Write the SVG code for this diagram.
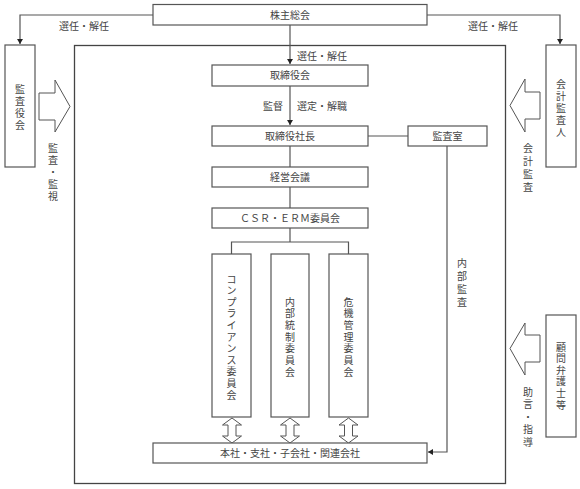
<svg xmlns="http://www.w3.org/2000/svg" width="580" height="489" viewBox="0 0 580 489">
<defs>
<marker id="ah" markerWidth="6" markerHeight="6" refX="5" refY="3" orient="auto" markerUnits="userSpaceOnUse">
<path d="M0,0 L5,3 L0,6 Z" fill="#222"/>
</marker>
<style>
.box{fill:#fff;stroke:#555;stroke-width:1.2}
.frame{fill:none;stroke:#444;stroke-width:1.3}
.ln{fill:none;stroke:#555;stroke-width:1.2}
.big{fill:#fff;stroke:#555;stroke-width:1}
.t{font-family:"Noto Sans CJK JP","Liberation Serif",serif;font-size:10px;fill:#444}
.c{text-anchor:middle}
</style>
</defs>
<rect class="frame" x="74.5" y="45.5" width="431" height="438"/>
<g id="connectors">
<path class="ln" d="M153,15 H20 V44" marker-end="url(#ah)"/>
<path class="ln" d="M427,15 H560 V44" marker-end="url(#ah)"/>
<path class="ln" d="M290,25 V64" marker-end="url(#ah)"/>
<path class="ln" d="M290,86 V125" marker-end="url(#ah)"/>
<path class="ln" d="M368,136 H408"/>
<path class="ln" d="M290,146 V167"/>
<path class="ln" d="M290,187 V208"/>
<path class="ln" d="M290,228 V242 M231.5,254 V242 H348.5 V254"/>
<path class="ln" d="M447,146 V452 H428" marker-end="url(#ah)"/>
<polygon class="big" points="39,93 55,93 55,80 70,106.5 55,132 55,120 39,120"/>
<polygon class="big" points="540,92 525,92 525,79 510,105.5 525,132 525,119 540,119"/>
<polygon class="big" points="540,335 525,335 525,323 510,348.5 525,375 525,362 540,362"/>
<polygon class="big" points="232,418 241.5,425 236,425 236,436 241.5,436 232,443 222.5,436 228,436 228,425 222.5,425"/>
<polygon class="big" points="290,418 299.5,425 294,425 294,436 299.5,436 290,443 280.5,436 286,436 286,425 280.5,425"/>
<polygon class="big" points="348.5,418 358,425 352.5,425 352.5,436 358,436 348.5,443 339,436 344.5,436 344.5,425 339,425"/>
<text class="t c" x="84" y="29.5">選任・解任</text>
<text class="t c" x="493" y="29.5">選任・解任</text>
<text class="t" x="297" y="59.5">選任・解任</text>
<text class="t" x="263" y="109.5">監督</text>
<text class="t" x="297" y="109.5">選定・解職</text>
<text class="t c" x="53 53 53 53 53" y="151.5 163.5 175.5 187.5 199.5">監査・監視</text>
<text class="t c" x="528 528 528 528" y="151.5 164.5 177.5 190.5">会計監査</text>
<text class="t c" x="462 462 462 462" y="266.5 279.5 292.5 305.5">内部監査</text>
<text class="t c" x="528 528 528 528 528" y="395.5 408 420.5 433 445.5">助言・指導</text>
</g>
<g id="n-kabunushi"><rect class="box" x="153" y="4.5" width="274" height="20.5"/><text class="t c" x="290" y="18.5">株主総会</text></g>
<g id="n-kansayakukai"><rect class="box" x="5" y="45" width="30" height="122"/><text class="t c" x="20 20 20 20" y="92.5 104.5 116.5 128.5">監査役会</text></g>
<g id="n-kaikeikansanin"><rect class="box" x="546" y="45" width="30" height="122"/><text class="t c" x="561 561 561 561 561" y="87.5 99.5 111.5 123.5 135.5">会計監査人</text></g>
<g id="n-torishimariyakukai"><rect class="box" x="212" y="65" width="156" height="21"/><text class="t c" x="290" y="79">取締役会</text></g>
<g id="n-shacho"><rect class="box" x="212" y="126" width="156" height="20"/><text class="t c" x="290" y="139.5">取締役社長</text></g>
<g id="n-kansashitsu"><rect class="box" x="408" y="126" width="79" height="20"/><text class="t c" x="447.5" y="139.5">監査室</text></g>
<g id="n-keiei"><rect class="box" x="212" y="167" width="156" height="20"/><text class="t c" x="290" y="180.5">経営会議</text></g>
<g id="n-csr"><rect class="box" x="212" y="208" width="156" height="20"/><text class="t c" x="290" y="221.5">ＣＳＲ・ＥＲＭ委員会</text></g>
<g id="n-compliance"><rect class="box" x="212" y="254" width="39" height="163"/><text class="t c" x="231.5 231.5 231.5 231.5 231.5 231.5 231.5 231.5 231.5 231.5 231.5" y="282.5 294.1 305.7 317.3 328.9 340.5 352.1 363.7 375.3 386.9 398.5">コンプライアンス委員会</text></g>
<g id="n-naibutousei"><rect class="box" x="271" y="254" width="38" height="163"/><text class="t c" x="290 290 290 290 290 290 290" y="305.5 317.2 328.9 340.6 352.3 364 375.7">内部統制委員会</text></g>
<g id="n-kiki"><rect class="box" x="329" y="254" width="39" height="163"/><text class="t c" x="348.5 348.5 348.5 348.5 348.5 348.5 348.5" y="305.5 317.2 328.9 340.6 352.3 364 375.7">危機管理委員会</text></g>
<g id="n-komon"><rect class="box" x="546" y="315" width="30" height="122"/><text class="t c" x="561 561 561 561 561 561" y="350.5 362.1 373.7 385.3 396.9 408.5">顧問弁護士等</text></g>
<g id="n-honsha"><rect class="box" x="153" y="443" width="274" height="20"/><text class="t c" x="290" y="456.5">本社・支社・子会社・関連会社</text></g>
</svg>
